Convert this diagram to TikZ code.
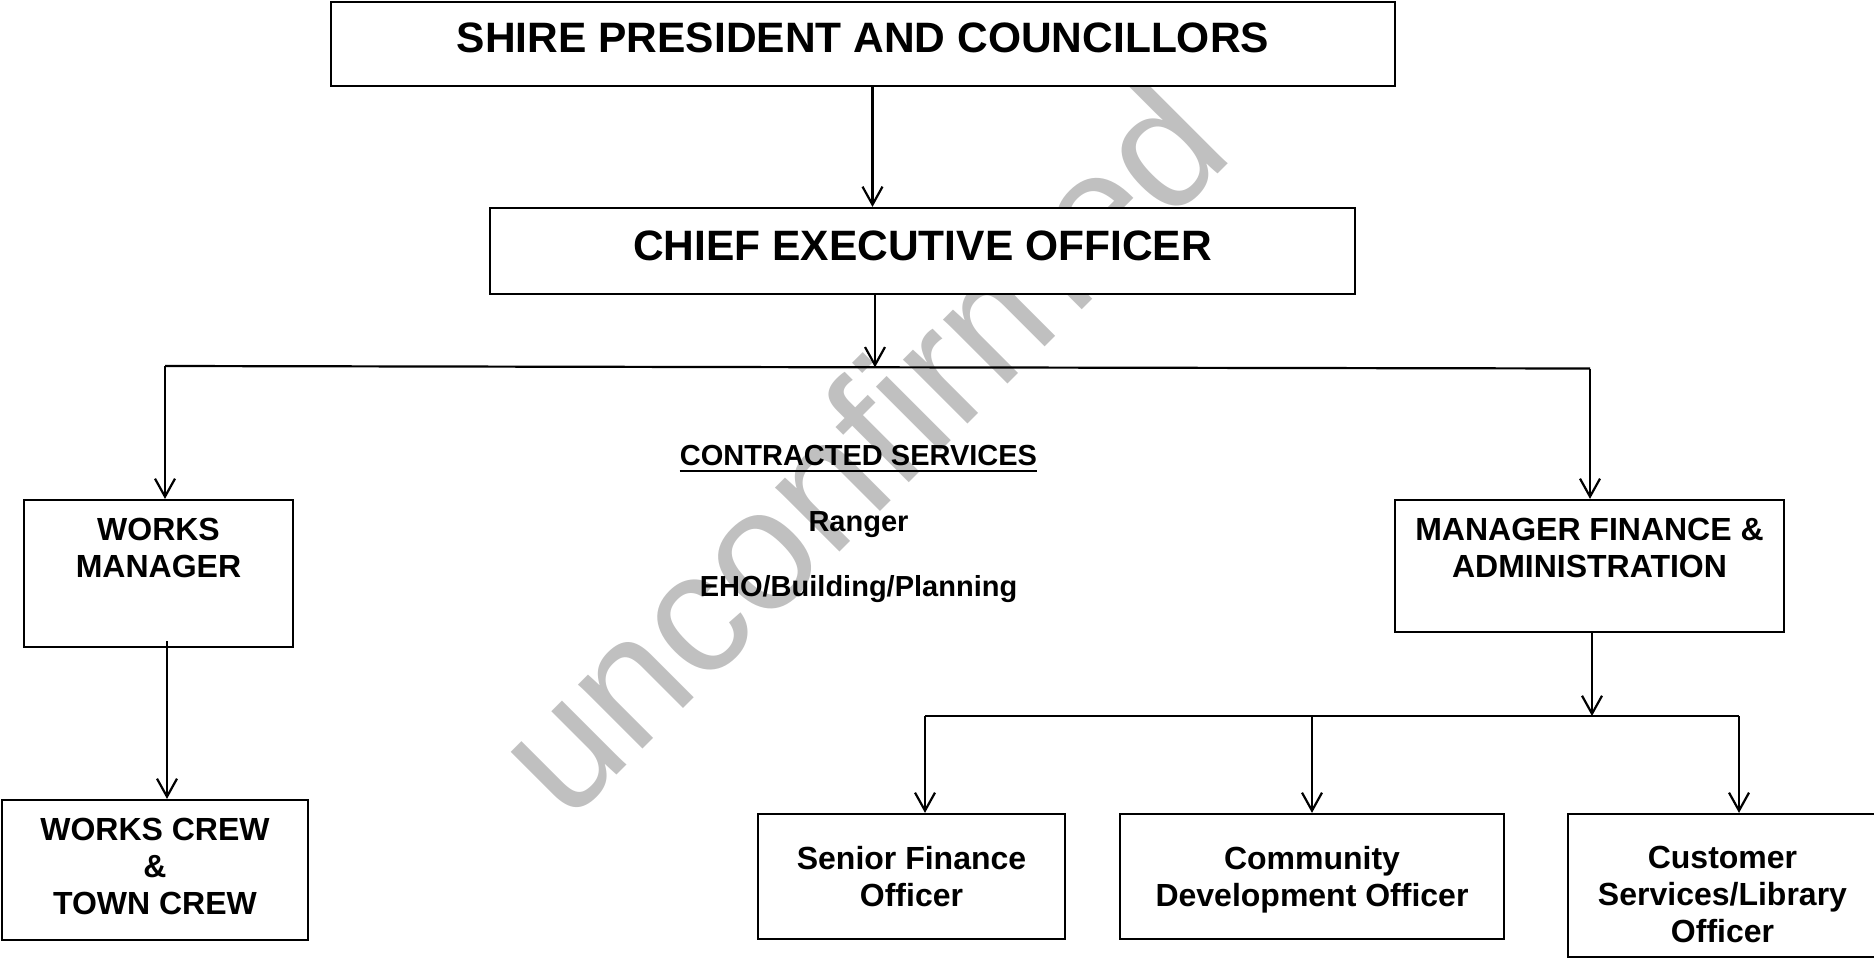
\documentclass[tikz,border=0pt]{standalone}
\usepackage{fontspec}
\setmainfont{Liberation Sans}
\usetikzlibrary{arrows.meta}
\definecolor{stampgray}{RGB}{192,192,192}

\begin{document}
\begin{tikzpicture}[x=1pt,y=-1pt,
  box/.style={draw, rectangle, line width=2.2pt, fill=white, inner sep=0pt},
  wire/.style={line width=2.2pt},
  conn/.style={line width=2.2pt, -{Straight Barb[length=18pt,width=20pt]}},
  headtxt/.style={font=\fontsize{42.5}{48}\selectfont\bfseries, inner sep=0pt, anchor=base},
  boxtxt/.style={font=\fontsize{32}{36.8}\selectfont\bfseries, align=center, inner sep=0pt, anchor=north},
  listtxt/.style={font=\fontsize{29}{34}\selectfont\bfseries, inner sep=0pt, anchor=base}
]
\useasboundingbox (0,0) rectangle (1874,962);

% draft stamp behind everything
\node[font=\fontsize{172}{172}\selectfont, text=stampgray, rotate=45,
      anchor=base, inner sep=0pt] (stamp) at (902,490) {unconfirmed};

% boxes
\node[box, minimum width=1064, minimum height=84] (council) at (863,44) {};
\node[box, minimum width=865, minimum height=86] (ceo) at (922.5,251) {};
\node[box, minimum width=269, minimum height=147] (works) at (158.5,573.5) {};
\node[box, minimum width=306, minimum height=140] (crew) at (155,870) {};
\node[box, minimum width=389, minimum height=132] (mfa) at (1589.5,566) {};
\node[box, minimum width=307, minimum height=125] (sfo) at (911.5,876.5) {};
\node[box, minimum width=384, minimum height=125] (cdo) at (1312,876.5) {};
\node[box, minimum width=312, minimum height=143] (csl) at (1724,885.5) {};

% box texts
\node[headtxt] (councilT) at (863,52) {SHIRE PRESIDENT AND COUNCILLORS};
\node[headtxt] (ceoT) at (922.5,260) {CHIEF EXECUTIVE OFFICER};
\node[boxtxt] (worksT) at (158.5,518) {WORKS\\MANAGER};
\node[boxtxt] (crewT) at (155,818) {WORKS CREW\\\&\\TOWN CREW};
\node[boxtxt] (mfaT) at (1589.5,518) {MANAGER FINANCE \&\\ADMINISTRATION};
\node[boxtxt] (sfoT) at (911.5,846) {Senior Finance\\Officer};
\node[boxtxt] (cdoT) at (1312,846) {Community\\Development Officer};
\node[boxtxt] (cslT) at (1722.5,846) {Customer\\Services/Library\\Officer};

% contracted services list
\node[listtxt] (cs) at (858.5,465.7) {CONTRACTED SERVICES};
\draw[line width=2.5pt] ([yshift=-5.3pt]cs.base west) -- ([yshift=-5.3pt]cs.base east);
\node[listtxt] (ranger) at (858.5,531) {Ranger};
\node[listtxt] (eho) at (858.5,596.7) {EHO/Building/Planning};

% bus lines
\coordinate (busL) at (165,366);
\coordinate (busR) at (1590,368.5);
\coordinate (busC) at (875,367.3);
\coordinate (lowL) at (925,716);
\coordinate (lowM) at (1312,716);
\coordinate (lowR) at (1739,716);
\coordinate (lowJ) at (1592,716);

\draw[wire] (busL) -- (busC) -- (busR);
\draw[wire] (lowL) -- (lowM) -- (lowJ) -- (lowR);

% connectors
\draw[conn] ([xshift=9.5pt]council.south) -- ([xshift=9.5pt]council.south |- ceo.north);
\draw[conn] ([xshift=-47.5pt]ceo.south) -- (busC);
\draw[conn] (busL) -- (busL |- works.north);
\draw[conn] (busR) -- (busR |- mfa.north);
\draw[conn] ([xshift=8.5pt, yshift=7pt]works.south) -- ([xshift=8.5pt]works.south |- crew.north);
\draw[conn] ([xshift=2.5pt, yshift=2pt]mfa.south) -- (lowJ);
\draw[conn] (lowL) -- (lowL |- sfo.north);
\draw[conn] (lowM) -- (lowM |- cdo.north);
\draw[conn] (lowR) -- (lowR |- csl.north);
\end{tikzpicture}
\end{document}
